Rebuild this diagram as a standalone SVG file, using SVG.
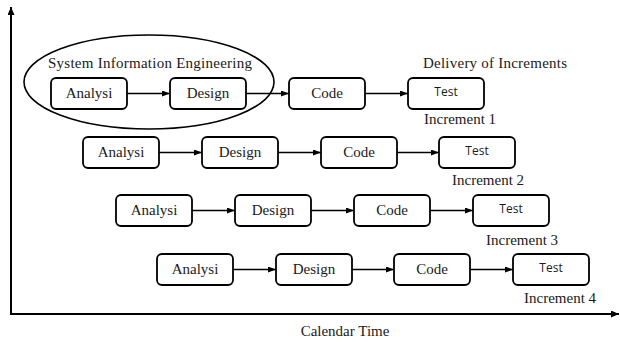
<svg xmlns="http://www.w3.org/2000/svg" width="620" height="342" viewBox="0 0 620 342">
<style>
.box{fill:#fff;stroke:#000;stroke-width:1.8}
.t{font-family:"Liberation Serif","Times New Roman",serif;font-size:15px;fill:#1a1a1a}
.s{font-family:"Open Sans","Noto Sans",sans-serif;font-size:12px;fill:#1a1a1a}
.c{text-anchor:middle}
.ln{stroke:#000;stroke-width:1.5;fill:none}
.ax{stroke:#000;stroke-width:2;fill:none}
</style>
<defs>
<marker id="ah" markerWidth="8" markerHeight="6" refX="8" refY="3" orient="auto" markerUnits="userSpaceOnUse">
<path d="M0,0 L8,3 L0,6 Z" fill="#000"/>
</marker>
<marker id="axh" markerWidth="8" markerHeight="7" refX="8" refY="3.5" orient="auto" markerUnits="userSpaceOnUse">
<path d="M0,0 L8,3.5 L0,7 Z" fill="#000"/>
</marker>
</defs>
<rect width="620" height="342" fill="#fff"/>
<g id="axes">
<line class="ax" x1="11" y1="314" x2="11" y2="7" marker-end="url(#axh)"/>
<line class="ax" x1="10" y1="314" x2="619" y2="314" marker-end="url(#axh)"/>
<text class="t c" x="345" y="336">Calendar Time</text>
</g>
<g id="sie">
<ellipse cx="149" cy="82" rx="125" ry="47" fill="none" stroke="#000" stroke-width="1.6"/>
<text class="t" x="48" y="68" textLength="204">System Information Engineering</text>
</g>
<text class="t" x="423" y="68" textLength="144">Delivery of Increments</text>
<g id="connectors">
<line class="ln" x1="127" y1="93.5" x2="170" y2="93.5" marker-end="url(#ah)"/>
<line class="ln" x1="246" y1="93.5" x2="289" y2="93.5" marker-end="url(#ah)"/>
<line class="ln" x1="365" y1="93.5" x2="408" y2="93.5" marker-end="url(#ah)"/>
<line class="ln" x1="159" y1="152.5" x2="202" y2="152.5" marker-end="url(#ah)"/>
<line class="ln" x1="278" y1="152.5" x2="321" y2="152.5" marker-end="url(#ah)"/>
<line class="ln" x1="397" y1="152.5" x2="439" y2="152.5" marker-end="url(#ah)"/>
<line class="ln" x1="192" y1="210.5" x2="235" y2="210.5" marker-end="url(#ah)"/>
<line class="ln" x1="311" y1="210.5" x2="354" y2="210.5" marker-end="url(#ah)"/>
<line class="ln" x1="430" y1="210.5" x2="473" y2="210.5" marker-end="url(#ah)"/>
<line class="ln" x1="233" y1="269.5" x2="276" y2="269.5" marker-end="url(#ah)"/>
<line class="ln" x1="352" y1="269.5" x2="394" y2="269.5" marker-end="url(#ah)"/>
<line class="ln" x1="470" y1="269.5" x2="513" y2="269.5" marker-end="url(#ah)"/>
</g>
<g id="r1-analysis"><rect class="box" x="51" y="78" width="76" height="31" rx="5"/><text class="t c" x="89" y="98">Analysi</text></g>
<g id="r1-design"><rect class="box" x="170" y="78" width="76" height="31" rx="5"/><text class="t c" x="208" y="98">Design</text></g>
<g id="r1-code"><rect class="box" x="289" y="78" width="76" height="31" rx="5"/><text class="t c" x="327" y="98">Code</text></g>
<g id="r1-test"><rect class="box" x="408" y="78" width="76" height="31" rx="5"/><text class="s c" x="446" y="96">Test</text></g>
<text class="t" x="424" y="124">Increment 1</text>
<g id="r2-analysis"><rect class="box" x="83" y="137" width="76" height="31" rx="5"/><text class="t c" x="121" y="157">Analysi</text></g>
<g id="r2-design"><rect class="box" x="202" y="137" width="76" height="31" rx="5"/><text class="t c" x="240" y="157">Design</text></g>
<g id="r2-code"><rect class="box" x="321" y="137" width="76" height="31" rx="5"/><text class="t c" x="359" y="157">Code</text></g>
<g id="r2-test"><rect class="box" x="439" y="137" width="76" height="31" rx="5"/><text class="s c" x="477" y="155">Test</text></g>
<text class="t" x="452" y="185">Increment 2</text>
<g id="r3-analysis"><rect class="box" x="116" y="195" width="76" height="31" rx="5"/><text class="t c" x="154" y="215">Analysi</text></g>
<g id="r3-design"><rect class="box" x="235" y="195" width="76" height="31" rx="5"/><text class="t c" x="273" y="215">Design</text></g>
<g id="r3-code"><rect class="box" x="354" y="195" width="76" height="31" rx="5"/><text class="t c" x="392" y="215">Code</text></g>
<g id="r3-test"><rect class="box" x="473" y="195" width="76" height="31" rx="5"/><text class="s c" x="511" y="213">Test</text></g>
<text class="t" x="486" y="245">Increment 3</text>
<g id="r4-analysis"><rect class="box" x="157" y="254" width="76" height="31" rx="5"/><text class="t c" x="195" y="274">Analysi</text></g>
<g id="r4-design"><rect class="box" x="276" y="254" width="76" height="31" rx="5"/><text class="t c" x="314" y="274">Design</text></g>
<g id="r4-code"><rect class="box" x="394" y="254" width="76" height="31" rx="5"/><text class="t c" x="432" y="274">Code</text></g>
<g id="r4-test"><rect class="box" x="513" y="254" width="76" height="31" rx="5"/><text class="s c" x="551" y="272">Test</text></g>
<text class="t" x="524" y="303">Increment 4</text>
</svg>
